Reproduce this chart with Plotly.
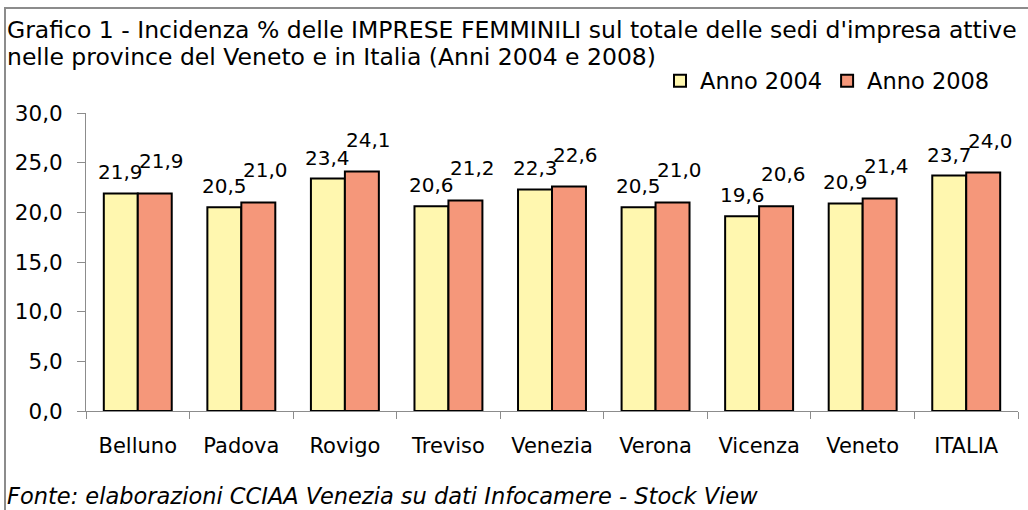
import plotly.graph_objects as go

categories = ["Belluno", "Padova", "Rovigo", "Treviso", "Venezia", "Verona", "Vicenza", "Veneto", "ITALIA"]
anno_2004 = [21.9, 20.5, 23.4, 20.6, 22.3, 20.5, 19.6, 20.9, 23.7]
anno_2008 = [21.9, 21.0, 24.1, 21.2, 22.6, 21.0, 20.6, 21.4, 24.0]
series_names = ["Anno 2004", "Anno 2008"]
y_ticks = [0, 5, 10, 15, 20, 25, 30]

title_lines = ["Grafico 1 - Incidenza % delle IMPRESE FEMMINILI sul totale delle sedi d'impresa attive",
               "nelle province del Veneto e in Italia (Anni 2004 e 2008)"]
source_text = "Fonte: elaborazioni CCIAA Venezia su dati Infocamere - Stock View"

FONT = "DejaVu Sans"
YELLOW = "#FFF7AF"
ORANGE = "#F5977A"

W, H = 1028, 510
L, R, T, B = 86, 10, 113, 99
pw, ph = W - L - R, H - T - B


def px_x(px):
    return (px - L) / pw


def px_y(py):
    return (H - B - py) / ph


fig = go.Figure()
for name, vals, col in [(series_names[0], anno_2004, YELLOW), (series_names[1], anno_2008, ORANGE)]:
    fig.add_trace(go.Bar(
        x=categories, y=vals, name=name,
        marker=dict(color=col, line=dict(color="black", width=2)),
        hoverinfo="x+y",
    ))

# data labels
half = 0.656 * pw / len(categories) / 4
for vals, xs, ys in [(anno_2004, -half, 7), (anno_2008, half + 7, 18)]:
    for c, v in zip(categories, vals):
        fig.add_annotation(
            x=c, y=v, xref="x", yref="y", text=f"{v:.1f}".replace(".", ","),
            showarrow=False, xanchor="center", yanchor="bottom",
            xshift=xs, yshift=ys, font=dict(family=FONT, size=20, color="black"),
        )

# title & source
for line, cy in zip(title_lines, [30, 57]):
    fig.add_annotation(
        x=px_x(5), y=px_y(cy), xref="paper", yref="paper", text=line,
        showarrow=False, xanchor="left", yanchor="middle", align="left",
        font=dict(family=FONT, size=23.5, color="black"),
    )
fig.add_annotation(
    x=px_x(5), y=px_y(496), xref="paper", yref="paper",
    text="<i>" + source_text + "</i>",
    showarrow=False, xanchor="left", yanchor="middle", align="left",
    font=dict(family=FONT, size=22.5, color="black"),
)

# outer border
fig.add_shape(
    type="rect", xref="paper", yref="paper",
    x0=px_x(5), x1=px_x(W + 10),
    y0=px_y(H + 10), y1=px_y(8),
    line=dict(color="#8C8C8C", width=2), layer="below",
)

fig.update_layout(
    width=W, height=H,
    margin=dict(l=L, r=R, t=T, b=B, autoexpand=False),
    paper_bgcolor="white", plot_bgcolor="white",
    barmode="group", bargap=0.344, bargroupgap=0,
    separators=",.",
    font=dict(family=FONT, size=21, color="black"),
    showlegend=True,
    legend=dict(
        orientation="h", x=px_x(660), y=px_y(81),
        xanchor="left", yanchor="middle",
        font=dict(family=FONT, size=22.5, color="black"),
        bgcolor="rgba(0,0,0,0)", itemwidth=30, tracegroupgap=0,
    ),
    xaxis=dict(
        showline=True, linecolor="#8C8C8C", linewidth=1,
        ticks="outside", ticklen=7, tickcolor="#8C8C8C", tickson="boundaries",
        showgrid=False, tickfont=dict(family=FONT, size=21), ticklabelstandoff=16,
    ),
    yaxis=dict(
        range=[0, 30], tickvals=y_ticks, tickformat=".1f",
        showline=True, linecolor="#8C8C8C", linewidth=1,
        ticks="outside", ticklen=8, tickcolor="#8C8C8C",
        showgrid=False, zeroline=False, tickfont=dict(family=FONT, size=21.5),
        ticklabelstandoff=10,
    ),
)

fig.write_html(
    "out.html",
    config={"displayModeBar": False},
    post_script="document.body.style.margin='0';document.body.style.overflow='hidden';",
)
